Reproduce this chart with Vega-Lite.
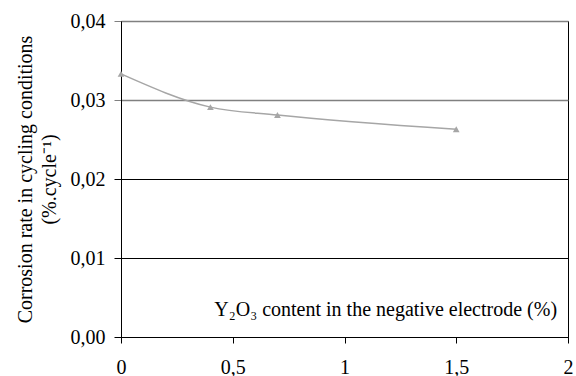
{
  "$schema": "https://vega.github.io/schema/vega-lite/v6.json",
  "width": 447,
  "height": 316,
  "autosize": "none",
  "padding": {"left": 121, "top": 21, "right": 8, "bottom": 39},
  "background": "white",
  "config": {
    "view": {"stroke": "#000000", "strokeWidth": 1},
    "font": "Liberation Serif",
    "axis": {
      "labelFont": "Liberation Serif",
      "titleFont": "Liberation Serif",
      "labelFontSize": 20,
      "titleFontSize": 20,
      "labelColor": "#000000",
      "titleColor": "#000000",
      "titleFontWeight": "normal",
      "domainColor": "#000000",
      "tickColor": "#000000",
      "tickSize": 7
    }
  },
  "data": {
    "values": [
      {"x": 0, "y": 0.0333},
      {"x": 0.4, "y": 0.0291},
      {"x": 0.7, "y": 0.0281},
      {"x": 1.5, "y": 0.0263}
    ]
  },
  "layer": [
    {
      "mark": {"type": "line", "color": "#a6a6a6", "strokeWidth": 1.5, "interpolate": "monotone"},
      "encoding": {
        "x": {
          "field": "x", "type": "quantitative",
          "scale": {"domain": [0, 2], "nice": false},
          "axis": {
            "values": [0, 0.5, 1, 1.5, 2],
            "grid": false,
            "title": null,
            "tickSize": 6,
            "labelExpr": "replace(format(datum.value, '~g'), '.', ',')",
            "labelPadding": 14,
            "labelFlush": false
          }
        },
        "y": {
          "field": "y", "type": "quantitative",
          "scale": {"domain": [0, 0.04], "nice": false},
          "axis": {
            "values": [0, 0.01, 0.02, 0.03, 0.04],
            "grid": true,
            "gridColor": {"condition": {"test": "datum.value >= 0.03", "value": "#808080"}, "value": "#000000"},
            "gridWidth": {"condition": {"test": "datum.value >= 0.03", "value": 1.6}, "value": 1},
            "tickColor": {"condition": {"test": "datum.value >= 0.03", "value": "#808080"}, "value": "#000000"},
            "gridOpacity": 1,
            "title": ["Corrosion rate in cycling conditions", "(%.cycle⁻¹)"],
            "titleLineHeight": 24,
            "titlePadding": 11,
            "labelExpr": "replace(format(datum.value, '.2f'), '.', ',')",
            "labelPadding": 9
          }
        }
      }
    },
    {
      "mark": {"type": "point", "shape": "triangle-up", "filled": true, "color": "#a6a6a6", "opacity": 1, "size": 45},
      "encoding": {
        "x": {"field": "x", "type": "quantitative"},
        "y": {"field": "y", "type": "quantitative"}
      }
    },
    {
      "data": {"values": [{"label": "Y₂O₃ content in the negative electrode (%)", "x": 1.951, "y": 0.0034}]},
      "mark": {"type": "text", "align": "right", "baseline": "middle", "font": "Liberation Serif", "fontSize": 20, "color": "#000000"},
      "encoding": {
        "x": {"field": "x", "type": "quantitative"},
        "y": {"field": "y", "type": "quantitative"},
        "text": {"field": "label"}
      }
    }
  ]
}
